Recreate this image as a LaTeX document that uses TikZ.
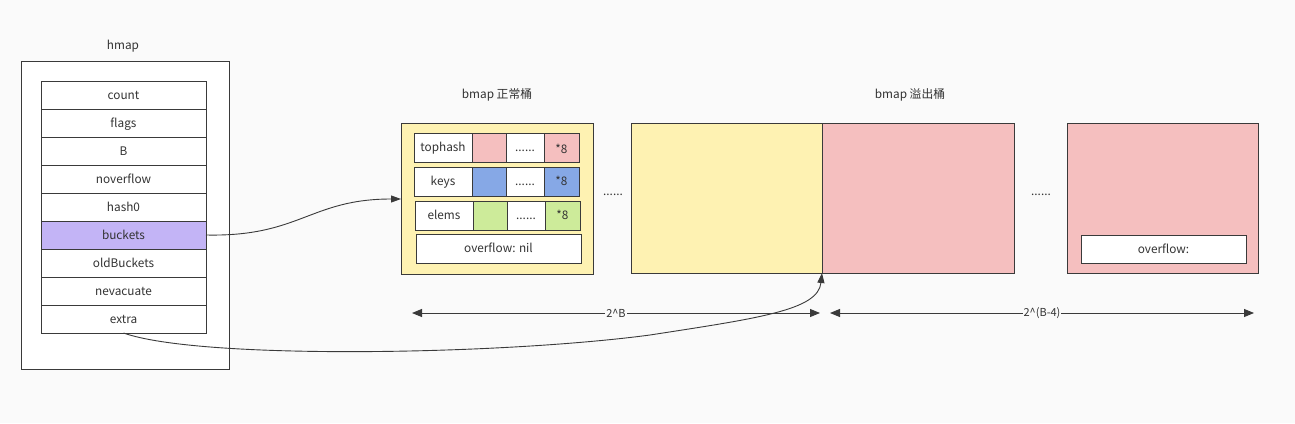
\documentclass[tikz,border=0pt]{standalone}
\usepackage{fontspec}
\setmainfont{Noto Sans CJK SC}
\usetikzlibrary{arrows.meta}
\definecolor{bg}{HTML}{FAFAFA}
\definecolor{ln}{HTML}{3A3A3A}
\definecolor{txt}{HTML}{333333}
\definecolor{pk}{HTML}{F5BFBF}
\definecolor{yl}{HTML}{FEF2B2}
\definecolor{bl}{HTML}{86A8E6}
\definecolor{gr}{HTML}{CDEB9A}
\definecolor{pu}{HTML}{C3B4F6}
\begin{document}
\begin{tikzpicture}[x=1pt,y=-1pt,
  every node/.style={font=\fontsize{11.8}{13}\selectfont, text=txt},
  box/.style={draw=ln, line width=0.9pt, inner sep=0pt, outer sep=0pt, text height=9pt, text depth=1pt},
  fld/.style={box, fill=white, minimum width=165pt, minimum height=28pt, anchor=north west},
  cell/.style={box, minimum height=29pt, anchor=north west},
  lbl/.style={inner sep=1pt},
  dim/.style={ln, line width=1pt, {Triangle[length=10pt,width=8pt]}-{Triangle[length=10pt,width=8pt]}},
  conn/.style={ln, line width=0.9pt, -{Triangle[length=10pt,width=7pt]}}]
\useasboundingbox[fill=bg] (0,0) rectangle (1295,423);
% hmap
\node[lbl] (thmap) at (123,46) {hmap};
\node[box, fill=white, minimum width=208pt, minimum height=308pt, anchor=north west] (hmap) at (21,61) {};
\node[fld] (f1) at (41,81) {count};
\node[fld] (f2) at (41,109) {flags};
\node[fld] (f3) at (41,137) {B};
\node[fld] (f4) at (41,165) {noverflow};
\node[fld] (f5) at (41,193) {hash0};
\node[fld, fill=pu] (f6) at (41,221) {buckets};
\node[fld] (f7) at (41,249) {oldBuckets};
\node[fld] (f8) at (41,277) {nevacuate};
\node[fld] (f9) at (41,305) {extra};
% normal bucket
\node[lbl] (tnorm) at (497,95) {bmap 正常桶};
\node[box, fill=yl, minimum width=192pt, minimum height=151pt, anchor=north west] (b1) at (401,123) {};
\node[cell, fill=white, minimum width=58pt] (th) at (414,133) {tophash};
\node[cell, fill=pk, minimum width=34pt] (th1) at (472,133) {};
\node[cell, fill=white, minimum width=38pt] (th2) at (506,133) {......};
\node[cell, fill=pk, minimum width=35pt] (th3) at (544,133) {\raisebox{-2pt}{*8}};
\node[cell, fill=white, minimum width=58pt] (ky) at (414,167) {keys};
\node[cell, fill=bl, minimum width=34pt] (ky1) at (472,167) {};
\node[cell, fill=white, minimum width=38pt] (ky2) at (506,167) {......};
\node[cell, fill=bl, minimum width=35pt] (ky3) at (544,167) {*8};
\node[cell, fill=white, minimum width=58pt] (el) at (415,201) {elems};
\node[cell, fill=gr, minimum width=34pt] (el1) at (473,201) {};
\node[cell, fill=white, minimum width=38pt] (el2) at (507,201) {......};
\node[cell, fill=gr, minimum width=35pt] (el3) at (545,201) {*8};
\node[cell, fill=white, minimum width=165pt] (ov1) at (416,234) {overflow: nil};
\node[lbl] (dots1) at (613,195) {......};
% second normal bucket
\node[box, fill=yl, minimum width=191pt, minimum height=150pt, anchor=north west] (b2) at (631,123) {};
% overflow buckets
\node[lbl] (tover) at (910,95) {bmap 溢出桶};
\node[box, fill=pk, minimum width=192pt, minimum height=150pt, anchor=north west] (o1) at (822,123) {};
\node[lbl] (dots2) at (1041,195) {......};
\node[box, fill=pk, minimum width=191pt, minimum height=150pt, anchor=north west] (o2) at (1067,123) {};
\node[box, fill=white, minimum width=165pt, minimum height=28pt, anchor=north west] (ov2) at (1081,235) {overflow:};
% dimension arrows
\coordinate (d1a) at (412,313);
\coordinate (d1b) at (820,313);
\coordinate (d2a) at (830,313);
\coordinate (d2b) at (1254,313);
\draw[dim] (d1a) -- node[fill=bg, inner sep=1pt, font=\fontsize{11}{12}\selectfont] (l1) {2\string^B} (d1b);
\draw[dim] (d2a) -- node[fill=bg, inner sep=1pt, font=\fontsize{11}{12}\selectfont] (l2) {2\string^(B-4)} (d2b);
% connectors
\draw[conn] (f6.east) .. controls (300,237) and (310,199) .. (b1.west |- 0,199);
\draw[conn] (f9.south) .. controls (200,360) and (500,355) .. (650,335) .. controls (760,318) and (818,310) .. (o1.south west);
\end{tikzpicture}
\end{document}
